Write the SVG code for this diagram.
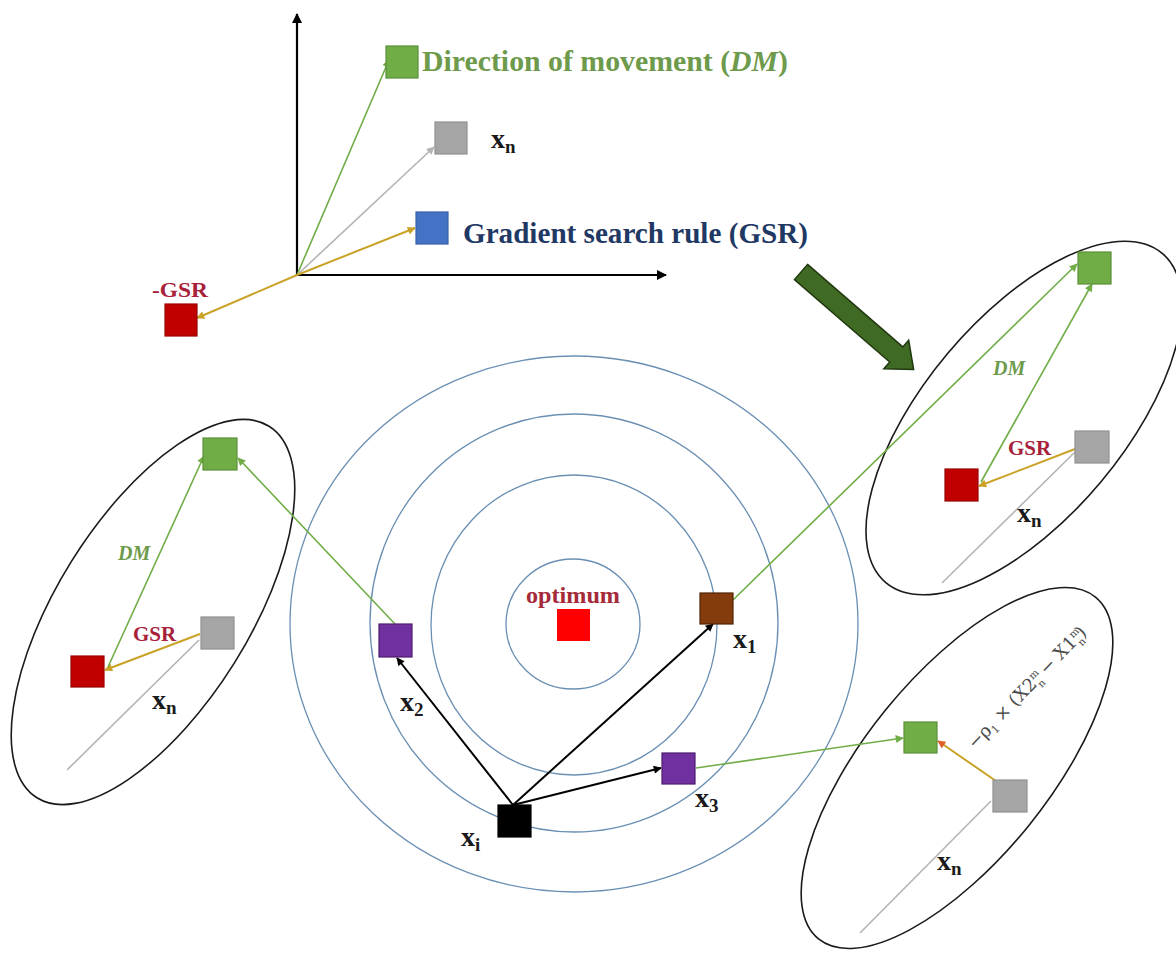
<svg xmlns="http://www.w3.org/2000/svg" width="1176" height="954" viewBox="0 0 1176 954">
<defs>
<style>
.sq{stroke-width:1.2}
.green{fill:#70ad47;stroke:#5b8f38}
.gray{fill:#a5a5a5;stroke:#909090}
.red{fill:#c00000;stroke:#9a0000}
.blue{fill:#4472c4;stroke:#3a62a8}
.purple{fill:#7030a0;stroke:#4d1d70}
.brown{fill:#843c0c;stroke:#4f2406}
.blk{fill:#000;stroke:#000}
.opt{fill:#ff0000;stroke:none}
.ring{fill:none;stroke:#6a8fb3;stroke-width:1.3}
.ell{fill:none;stroke:#1a1a1a;stroke-width:1.6}
.ax{stroke:#000;stroke-width:2.2;fill:none}
.lg{stroke:#70ad47;stroke-width:1.6;fill:none}
.lgold{stroke:#c9a227;stroke-width:2;fill:none}
.lgray{stroke:#b4b4b4;stroke-width:1.6;fill:none}
.lb{stroke:#000;stroke-width:2;fill:none}
.t{font-family:"Liberation Serif","Times New Roman",serif;font-weight:bold}
.xl{font-family:"Liberation Serif","Times New Roman",serif;font-weight:bold;font-size:28px;fill:#1a1a1a}
.sub{font-size:19px}
.gsr{fill:#a8213a}
.dm{fill:#6e9a4c;font-style:italic}
</style>
<marker id="mAx" viewBox="0 0 10 10" refX="9" refY="5" markerWidth="11" markerHeight="10" markerUnits="userSpaceOnUse" orient="auto"><path d="M0,0 L10,5 L0,10 z" fill="#000"/></marker>
<marker id="mBk" viewBox="0 0 10 10" refX="9" refY="5" markerWidth="10" markerHeight="8" markerUnits="userSpaceOnUse" orient="auto"><path d="M0,0 L10,5 L0,10 z" fill="#000"/></marker>
<marker id="mGr" viewBox="0 0 10 10" refX="9" refY="5" markerWidth="10" markerHeight="8" markerUnits="userSpaceOnUse" orient="auto"><path d="M0,0 L10,5 L0,10 z" fill="#70ad47"/></marker>
<marker id="mGo" viewBox="0 0 10 10" refX="9" refY="5" markerWidth="10" markerHeight="8" markerUnits="userSpaceOnUse" orient="auto"><path d="M0,0 L10,5 L0,10 z" fill="#c9a227"/></marker>
<marker id="mGy" viewBox="0 0 10 10" refX="9" refY="5" markerWidth="10" markerHeight="8" markerUnits="userSpaceOnUse" orient="auto"><path d="M0,0 L10,5 L0,10 z" fill="#b4b4b4"/></marker>
<marker id="mOr" viewBox="0 0 10 10" refX="9" refY="5" markerWidth="10" markerHeight="8" markerUnits="userSpaceOnUse" orient="auto"><path d="M0,0 L10,5 L0,10 z" fill="#e0602a"/></marker>
</defs>
<rect width="1176" height="954" fill="#fff"/>

<g id="rings">
<ellipse class="ring" cx="574" cy="624" rx="284" ry="268"/>
<ellipse class="ring" cx="574" cy="623" rx="204" ry="209"/>
<ellipse class="ring" cx="574" cy="625" rx="143" ry="150"/>
<ellipse class="ring" cx="573" cy="624" rx="67" ry="65"/>
</g>

<g id="group-ellipses">
<ellipse id="ellipse-left" class="ell" cx="153" cy="612" rx="219" ry="96" transform="rotate(-58 153 612)"/>
<ellipse id="ellipse-topright" class="ell" cx="1024" cy="418" rx="215" ry="100" transform="rotate(-50 1024 418)"/>
<ellipse id="ellipse-bottomright" class="ell" cx="957" cy="768" rx="220" ry="92" transform="rotate(-51 957 768)"/>
</g>

<g id="connectors">
<line class="ax" x1="297" y1="276" x2="297" y2="14" marker-end="url(#mAx)"/>
<line class="ax" x1="296" y1="275" x2="666" y2="275" marker-end="url(#mAx)"/>
<line class="lg" x1="297" y1="275" x2="389" y2="60" marker-end="url(#mGr)"/>
<line class="lgray" x1="297" y1="275" x2="434" y2="147" marker-end="url(#mGy)"/>
<line class="lgold" x1="297" y1="275" x2="415" y2="228" marker-end="url(#mGo)"/>
<line class="lgold" x1="297" y1="275" x2="197" y2="318" marker-end="url(#mGo)"/>
<line class="lb" x1="513" y1="805" x2="397" y2="658" marker-end="url(#mBk)"/>
<line class="lb" x1="513" y1="805" x2="713" y2="624" marker-end="url(#mBk)"/>
<line class="lb" x1="513" y1="805" x2="661" y2="768" marker-end="url(#mBk)"/>
<line class="lg" x1="395" y1="624" x2="238" y2="458" marker-end="url(#mGr)"/>
<line class="lg" x1="733" y1="600" x2="1077" y2="264" marker-end="url(#mGr)"/>
<line class="lg" x1="696" y1="768" x2="903" y2="738" marker-end="url(#mGr)"/>
<line class="lgray" x1="942" y1="583" x2="1075" y2="452"/>
<line class="lgold" x1="1075" y1="449" x2="979" y2="486" marker-end="url(#mGo)"/>
<line class="lg" x1="981" y1="482" x2="1092" y2="284" marker-end="url(#mGr)"/>
<line class="lgray" x1="67" y1="770" x2="199" y2="640"/>
<line class="lgold" x1="200" y1="634" x2="105" y2="670" marker-end="url(#mGo)"/>
<line class="lg" x1="108" y1="667" x2="204" y2="456" marker-end="url(#mGr)"/>
<line class="lgray" x1="860" y1="933" x2="991" y2="801"/>
<line class="lgold" x1="996" y1="781" x2="938" y2="741" marker-end="url(#mOr)"/>
</g>

<g id="big-arrow">
<polygon transform="translate(801,272) rotate(40.9)" points="0,-10 126,-10 126,-19 149,0 126,19 126,10 0,10" fill="#3e6a24" stroke="#22380f" stroke-width="1.5"/>
</g>

<g id="node-dm-top"><rect class="sq green" x="386" y="46" width="32" height="32"/>
<text class="t" x="422" y="71" font-size="29" fill="#6e9a4c" textLength="366" lengthAdjust="spacingAndGlyphs">Direction of movement (<tspan font-style="italic">DM</tspan>)</text></g>
<g id="node-xn-top"><rect class="sq gray" x="435" y="122" width="32" height="32"/>
<text class="xl" x="491" y="148">x<tspan class="sub" dy="5">n</tspan></text></g>
<g id="node-gsr-top"><rect class="sq blue" x="416" y="212" width="32" height="32"/>
<text class="t" x="463" y="243" font-size="29" fill="#1f3864" textLength="345" lengthAdjust="spacingAndGlyphs">Gradient search rule (GSR)</text></g>
<g id="node-neg-gsr"><rect class="sq red" x="165" y="304" width="32" height="32"/>
<text class="t gsr" x="152" y="297" font-size="22" textLength="56" lengthAdjust="spacingAndGlyphs">-GSR</text></g>

<g id="node-optimum"><rect class="opt" x="557" y="609" width="33" height="32"/>
<text class="t" x="526" y="603" font-size="24" fill="#a52a3a" textLength="94" lengthAdjust="spacingAndGlyphs">optimum</text></g>
<g id="node-x1"><rect class="sq brown" x="700" y="593" width="33" height="31"/>
<text class="xl" x="733" y="648">x<tspan class="sub" dy="5">1</tspan></text></g>
<g id="node-x2"><rect class="sq purple" x="379" y="624" width="33" height="33"/>
<text class="xl" x="400" y="711">x<tspan class="sub" dy="5">2</tspan></text></g>
<g id="node-x3"><rect class="sq purple" x="662" y="753" width="33" height="31"/>
<text class="xl" x="695" y="807">x<tspan class="sub" dy="5">3</tspan></text></g>
<g id="node-xi"><rect class="sq blk" x="498" y="805" width="33" height="32"/>
<text class="xl" x="461" y="846">x<tspan class="sub" dy="5">i</tspan></text></g>

<g id="node-tr-green"><rect class="sq green" x="1078" y="252" width="33" height="32"/></g>
<g id="node-tr-gray"><rect class="sq gray" x="1075" y="431" width="34" height="32"/></g>
<g id="node-tr-red"><rect class="sq red" x="945" y="469" width="33" height="32"/></g>
<g id="labels-tr">
<text class="t dm" x="993" y="375" font-size="20">DM</text>
<text class="t gsr" x="1008" y="455" font-size="21">GSR</text>
<text class="xl" x="1017" y="522">x<tspan class="sub" dy="5">n</tspan></text>
</g>

<g id="node-l-green"><rect class="sq green" x="203" y="438" width="34" height="32"/></g>
<g id="node-l-gray"><rect class="sq gray" x="201" y="617" width="33" height="32"/></g>
<g id="node-l-red"><rect class="sq red" x="71" y="656" width="33" height="31"/></g>
<g id="labels-l">
<text class="t dm" x="118" y="560" font-size="20">DM</text>
<text class="t gsr" x="133" y="641" font-size="21">GSR</text>
<text class="xl" x="152" y="709">x<tspan class="sub" dy="5">n</tspan></text>
</g>

<g id="node-br-green"><rect class="sq green" x="904" y="722" width="33" height="31"/></g>
<g id="node-br-gray"><rect class="sq gray" x="993" y="780" width="34" height="32"/></g>
<g id="labels-br">
<text class="xl" x="937" y="870">x<tspan class="sub" dy="5">n</tspan></text>
<text transform="translate(975,750) rotate(-46)" font-family="'DejaVu Serif','Liberation Serif',serif" font-size="18" fill="#4a4a4a">−ρ<tspan font-size="11" dy="4">1</tspan><tspan dy="-4"> × (X2</tspan><tspan font-size="10" dy="-7">m</tspan><tspan font-size="10" dx="-9" dy="12">n</tspan><tspan dy="-5"> − X1</tspan><tspan font-size="10" dy="-7">m</tspan><tspan font-size="10" dx="-9" dy="12">n</tspan><tspan dy="-5">)</tspan></text>
</g>
</svg>
